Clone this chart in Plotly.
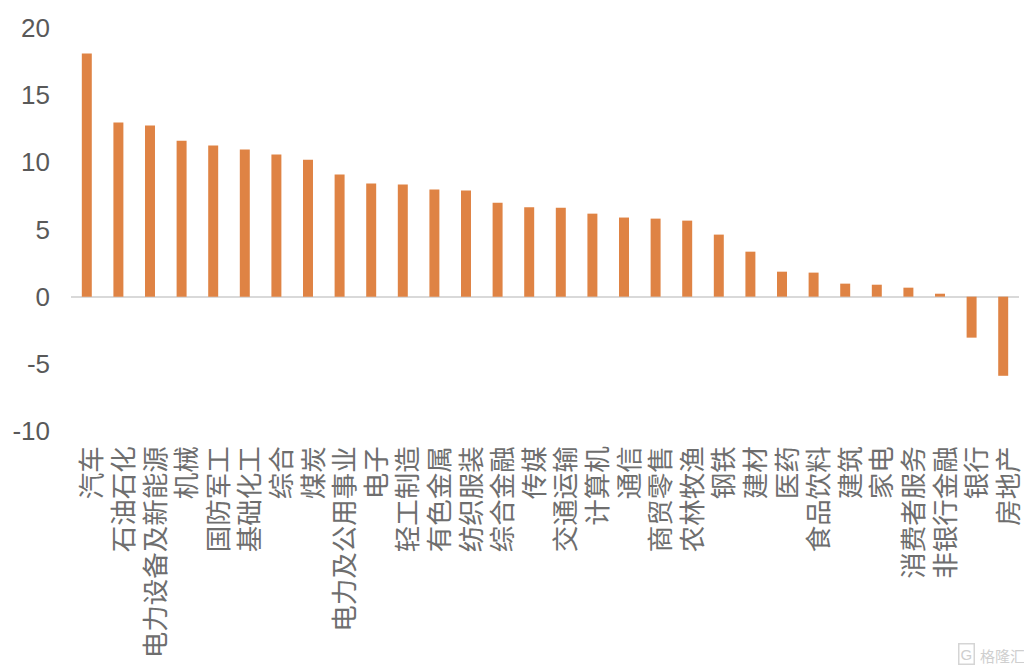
import plotly.graph_objects as go

categories = ["汽车","石油石化","电力设备及新能源","机械","国防军工","基础化工","综合","煤炭","电力及公用事业","电子",
              "轻工制造","有色金属","纺织服装","综合金融","传媒","交通运输","计算机","通信","商贸零售","农林牧渔",
              "钢铁","建材","医药","食品饮料","建筑","家电","消费者服务","非银行金融","银行","房地产"]
values = [18.1,12.97,12.74,11.6,11.25,10.95,10.58,10.2,9.09,8.42,
          8.35,7.97,7.9,7.0,6.65,6.62,6.18,5.89,5.81,5.66,
          4.62,3.35,1.86,1.79,0.97,0.89,0.67,0.22,-3.05,-5.89]
y_ticks = [-10,-5,0,5,10,15,20]
y_labels = ["-10","-5","0","5","10","15","20"]

W, H = 1024, 664
L, R, T, B = 63, 13.4, 20, 241
PW, PH = W-L-R, H-T-B

fig = go.Figure(go.Bar(x=categories, y=values, marker=dict(color="#DF8344", line=dict(width=0)), width=0.316))
fig.update_layout(
    width=W, height=H, margin=dict(l=L, r=R, t=T, b=B, autoexpand=False),
    paper_bgcolor="white", plot_bgcolor="white", showlegend=False,
    font=dict(family="Liberation Sans, Noto Sans CJK SC", color="#595959"),
    xaxis=dict(type="category", tickangle=-90, showgrid=False, showline=False, ticks="",
               tickmode="array", tickvals=categories, ticktext=categories,
               tickfont=dict(size=26.5, family="Noto Sans CJK SC", color="#6E6E6E"),
               ticklabelstandoff=9, ticklabelshift=6, automargin=False, range=[-0.5, 29.5], zeroline=False),
    yaxis=dict(range=[-10, 20], tickvals=y_ticks, ticktext=y_labels, showgrid=False, showline=False, ticks="",
               zeroline=True, zerolinecolor="#D9D9D9", zerolinewidth=2,
               tickfont=dict(size=26, family="Liberation Sans", color="#595959"),
               ticklabelstandoff=20, automargin=False),
    annotations=[
        dict(text="G", xref="paper", yref="paper", x=(958-L)/PW, y=-(646-(H-B))/PH,
             xanchor="center", yanchor="middle", showarrow=False,
             font=dict(size=15, color="#CFCFCF", family="Liberation Sans"),
             bordercolor="#D5D5D5", borderwidth=1.5, borderpad=1),
        dict(text="格隆汇", xref="paper", yref="paper", x=(994-L)/PW, y=-(647-(H-B))/PH,
             xanchor="center", yanchor="middle", showarrow=False,
             font=dict(size=15, color="#CFCFCF", family="Noto Sans CJK SC")),
    ],
)
fig.write_html("out.html")
